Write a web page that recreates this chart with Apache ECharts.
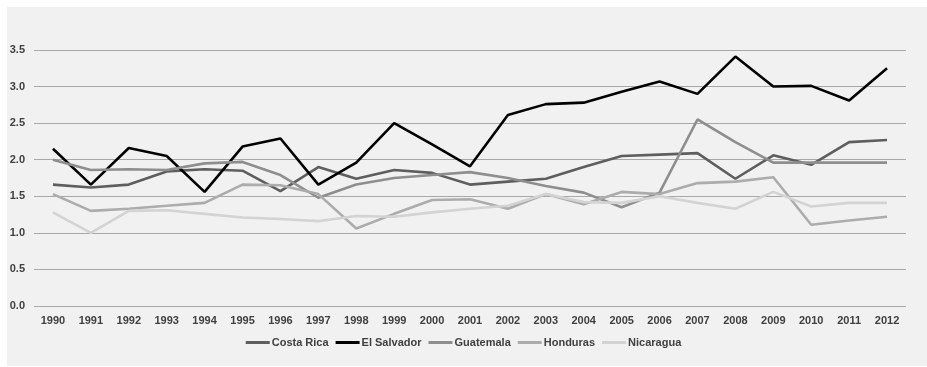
<!DOCTYPE html>
<html>
<head>
<meta charset="utf-8">
<title>Central America, 1990-2012</title>
<script src="https://cdn.jsdelivr.net/npm/echarts@6/dist/echarts.min.js"></script>
<style>
  html, body { margin: 0; padding: 0; background: #ffffff; }
  #chart { width: 927px; height: 367px; }
</style>
</head>
<body>
<div id="chart"></div>
<script>
// Years along the horizontal axis
const years = ['1990','1991','1992','1993','1994','1995','1996','1997','1998','1999','2000',
               '2001','2002','2003','2004','2005','2006','2007','2008','2009','2010','2011','2012'];

// Values per country, one per year
const costaRica  = [1.66,1.62,1.66,1.84,1.87,1.85,1.57,1.90,1.74,1.86,1.82,1.66,1.70,1.74,1.90,2.05,2.07,2.09,1.74,2.06,1.93,2.24,2.27];
const elSalvador = [2.15,1.66,2.16,2.05,1.56,2.18,2.29,1.66,1.96,2.50,2.21,1.91,2.61,2.76,2.78,2.93,3.07,2.90,3.41,3.00,3.01,2.81,3.25];
const guatemala  = [2.00,1.86,1.87,1.86,1.95,1.97,1.79,1.48,1.66,1.75,1.79,1.83,1.75,1.64,1.55,1.35,1.55,2.55,2.24,1.96,1.96,1.96,1.96];
const honduras   = [1.53,1.30,1.33,1.37,1.41,1.66,1.65,1.53,1.06,1.26,1.45,1.46,1.33,1.53,1.39,1.56,1.53,1.68,1.70,1.76,1.11,1.17,1.22];
const nicaragua  = [1.28,1.00,1.30,1.31,1.26,1.21,1.19,1.16,1.23,1.22,1.28,1.33,1.37,1.53,1.42,1.41,1.50,1.41,1.33,1.56,1.36,1.41,1.41];

// Y axis ticks
const yTicks = { min: 0, max: 3.5, step: 0.5 };

const seriesDefs = [
  { name: 'Costa Rica',  data: costaRica,  color: '#5e5e5e' },
  { name: 'El Salvador', data: elSalvador, color: '#000000' },
  { name: 'Guatemala',   data: guatemala,  color: '#8e8e8e' },
  { name: 'Honduras',    data: honduras,   color: '#acacac' },
  { name: 'Nicaragua',   data: nicaragua,  color: '#d3d3d3' }
];

const FONT = "'Liberation Sans Narrow', 'Arial Narrow', 'Liberation Sans', sans-serif";
const TEXT = '#404040';

const chart = echarts.init(document.getElementById('chart'), null, { renderer: 'canvas' });

chart.setOption({
  backgroundColor: '#ffffff',
  animation: false,
  graphic: [{
    type: 'rect',
    left: 7, top: 7, z: -10,
    shape: { width: 920, height: 359 },
    style: { fill: '#f1f1f1' }
  }],
  grid: { left: 34, right: 21, top: 50, bottom: 61 },
  legend: {
    bottom: 14,
    left: 'center',
    icon: 'rect',
    itemWidth: 24,
    itemHeight: 3,
    itemGap: 7,
    textStyle: { fontFamily: FONT, fontWeight: 'bold', fontSize: 11, color: TEXT, padding: [0, 0, 0, -3] },
    data: seriesDefs.map(s => s.name)
  },
  xAxis: {
    type: 'category',
    data: years,
    boundaryGap: true,
    axisLine: { show: false },
    axisTick: { show: false },
    axisLabel: { fontFamily: FONT, fontWeight: 'bold', fontSize: 11, color: TEXT, margin: 9, interval: 0 }
  },
  yAxis: {
    type: 'value',
    min: yTicks.min,
    max: yTicks.max,
    interval: yTicks.step,
    axisLine: { show: false },
    axisTick: { show: false },
    axisLabel: {
      fontFamily: FONT, fontWeight: 'bold', fontSize: 11, color: TEXT, margin: 9,
      formatter: v => v.toFixed(1)
    },
    splitLine: { lineStyle: { color: '#a8a8a8', width: 1.2 } }
  },
  series: seriesDefs.map(s => ({
    name: s.name,
    type: 'line',
    data: s.data,
    symbol: 'none',
    showSymbol: false,
    itemStyle: { color: s.color },
    lineStyle: { color: s.color, width: 2.6 }
  }))
});
</script>
</body>
</html>
